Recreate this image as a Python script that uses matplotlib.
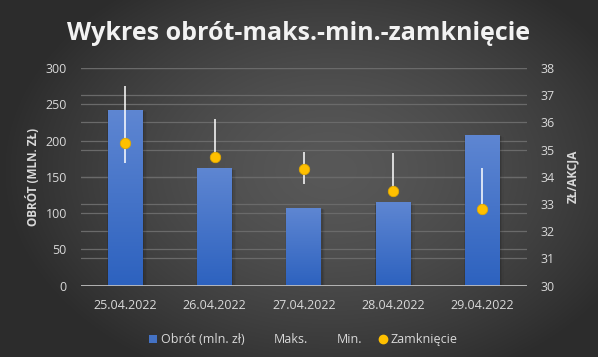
import numpy as np
import matplotlib
matplotlib.use("Agg")
import matplotlib.pyplot as plt
from matplotlib.patches import Patch, Rectangle
from matplotlib.lines import Line2D

# dane
daty = ["25.04.2022", "26.04.2022", "27.04.2022", "28.04.2022", "29.04.2022"]
obrot = [242, 162, 107, 115, 208]
maks = [37.34, 36.12, 34.90, 34.87, 34.32]
mini = [34.49, 34.62, 33.73, 33.40, 32.75]
zamkniecie = [35.25, 34.73, 34.30, 33.49, 32.82]

plt.rcParams['font.family'] = ['Open Sans', 'DejaVu Sans']
tekst = '#d9d9d9'

fig = plt.figure(figsize=(5.98, 3.57), dpi=100)

# tlo - gradient radialny
tlo = fig.add_axes([0, 0, 1, 1], zorder=-10)
yy, xx = np.mgrid[0:357, 0:598]
r = np.sqrt(((xx - 330) / 330.0) ** 2 + ((yy - 170) / 230.0) ** 2)
r = np.clip(r, 0, 1)
c1 = np.array([0x58, 0x58, 0x58]) / 255.0
c2 = np.array([0x2c, 0x2c, 0x2c]) / 255.0
img = c1[None, None, :] * (1 - r[..., None] ** 1.5) + c2[None, None, :] * (r[..., None] ** 1.5)
tlo.imshow(img, aspect='auto', extent=[0, 1, 0, 1])
tlo.axis('off')

ax = fig.add_axes([0.135, 0.2, 0.746, 0.6095])
ax.patch.set_alpha(0)
ax2 = ax.twinx()
ax2.patch.set_alpha(0)

x = np.arange(len(daty))
szer = 0.39

ax.set_ylim(0, 300)
ax.set_xlim(-0.5, len(daty) - 0.5)
ax2.set_ylim(30, 38)
lewe = np.arange(0, 301, 50)
prawe = np.arange(30, 39, 1)
ax.set_yticks(lewe)
ax2.set_yticks(prawe)

# linie siatki dla obu osi (za slupkami)
for v in lewe[1:]:
    ax.axhline(v, color='#6a6a6a', lw=0.9, zorder=0)
for v in prawe[1:]:
    vl = (v - 30) / 8.0 * 300
    ax.axhline(vl, color='#6a6a6a', lw=0.9, zorder=0)
ax.axhline(0, color='#bfbfbf', lw=2, zorder=3)

# slupki z gradientem
grad = np.linspace(0, 1, 100)[:, None]
cgora = np.array([0x5e, 0x86, 0xd2]) / 255.0
cdol = np.array([0x2d, 0x62, 0xbf]) / 255.0
gimg = cdol[None, None, :] * (1 - grad[..., None]) + cgora[None, None, :] * grad[..., None]
for xi, h in zip(x, obrot):
    for k, a in enumerate([0.10, 0.07, 0.04]):
        d = 0.012 * (k + 1)
        cien = Rectangle((xi - szer / 2 - d * 0.3, 0), szer + d * 1.6, h - 1 - d * 40, color='black',
                         alpha=a, zorder=1, lw=0)
        ax.add_patch(cien)
    rect = Rectangle((xi - szer / 2, 0), szer, h, facecolor='none', edgecolor='none', zorder=2)
    ax.add_patch(rect)
    im = ax.imshow(gimg, extent=[xi - szer / 2, xi + szer / 2, 0, h], origin='lower',
                   aspect='auto', zorder=2)
    im.set_clip_path(rect)
ax.set_xlim(-0.5, len(daty) - 0.5)
ax.set_ylim(0, 300)

# maks-min i zamkniecie
ax2.vlines(x, mini, maks, color='white', lw=1.1, zorder=4)
ax2.plot(x, zamkniecie, 'o', ms=7.5, color='#ffc000', mec='#e0a800', mew=0.6, zorder=5, ls='none')

ax.set_xticks(x)
ax.set_xticklabels(daty)
for a in (ax, ax2):
    for s in a.spines.values():
        s.set_visible(False)
    a.tick_params(length=0, colors=tekst, labelsize=9)
ax.tick_params(axis='x', pad=10)
ax.tick_params(axis='y', pad=10)
ax2.tick_params(axis='y', pad=10)

ax.set_ylabel('OBRÓT (MLN. ZŁ)', color=tekst, fontsize=8.5, fontweight='bold', labelpad=4)
ax2.set_ylabel('ZŁ/AKCJA', color=tekst, fontsize=8.5, fontweight='bold', rotation=90, labelpad=8)

fig.text(0.5, 0.905, 'Wykres obrót-maks.-min.-zamknięcie', ha='center', va='center',
         color='#f2f2f2', fontsize=18, fontweight='bold')

uchwyty = [Patch(facecolor='#4472c4', edgecolor='none'),
           Line2D([], [], ls='none'),
           Line2D([], [], ls='none'),
           Line2D([], [], marker='o', ls='none', ms=6, color='#ffc000')]
opisy = ['Obrót (mln. zł)', 'Maks.', 'Min.', 'Zamknięcie']
leg = fig.legend(uchwyty, opisy, loc='center', bbox_to_anchor=(0.507, 0.048), ncol=4,
                 frameon=False, fontsize=9, handlelength=0.7, handleheight=0.7,
                 handletextpad=0.3, columnspacing=1.3, labelcolor=tekst)

fig.savefig('out.png', dpi=100)
